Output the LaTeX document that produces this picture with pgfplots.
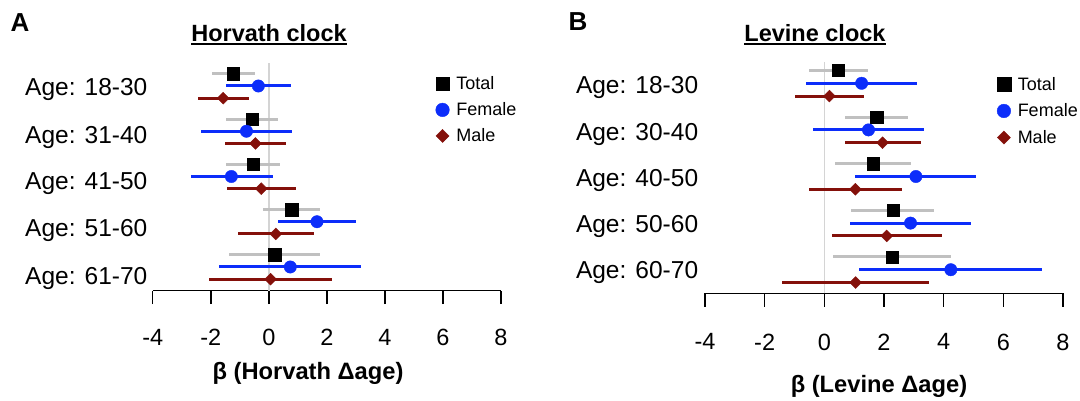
\documentclass[border=0pt]{standalone}
\usepackage{pgfplots}
\pgfplotsset{compat=1.18}
\usepackage{pgfplotstable}
\usepackage{fontspec}
\setmainfont{Liberation Sans}
\definecolor{cigray}{RGB}{192,192,192}
\definecolor{zerogray}{RGB}{212,212,212}
\definecolor{fblue}{RGB}{12,45,250}
\definecolor{mred}{RGB}{132,16,10}

\pgfplotstableread{
y tm tl th fm fl fh mm ml mh
5 -1.22 -1.94 -0.49 -0.36 -1.48 0.77 -1.57 -2.45 -0.69
4 -0.57 -1.46 0.30 -0.77 -2.32 0.79 -0.46 -1.51 0.59
3 -0.54 -1.46 0.39 -1.29 -2.69 0.13 -0.26 -1.44 0.92
2 0.79 -0.21 1.78 1.66 0.30 3.01 0.24 -1.07 1.57
1 0.20 -1.38 1.78 0.74 -1.71 3.16 0.06 -2.05 2.17
}\dataA

\pgfplotstableread{
y tm tl th fm fl fh mm ml mh
5 0.46 -0.52 1.45 1.25 -0.60 3.11 0.17 -0.98 1.32
4 1.75 0.69 2.81 1.48 -0.37 3.35 1.95 0.69 3.24
3 1.63 0.37 2.89 3.07 1.03 5.10 1.04 -0.52 2.61
2 2.30 0.90 3.69 2.89 0.85 4.93 2.09 0.25 3.95
1 2.27 0.30 4.23 4.24 1.17 7.31 1.05 -1.42 3.52
}\dataB

\pgfplotsset{
  forest/.style={
    scale only axis,
    xmin=-4, xmax=8,
    axis x line*=bottom, axis y line*=left,
    y axis line style={draw=none},
    x axis line style={line width=1.5pt, -},
    xtick={-4,-2,...,8},
    tick align=outside, major tick length=13.3pt,
    xtick style={line width=1.5pt, black},
    ytick style={draw=none},
    xticklabel style={font=\fontsize{23.5}{28}\selectfont},
    yticklabel style={font=\fontsize{24.5}{29}\selectfont, anchor=base east},
    /pgf/number format/assume math mode=true,
    clip=false,
    legend cell align=left,
    legend style={draw=none, fill=none, font=\fontsize{18}{21}\selectfont, row sep=7.5pt, column sep=5pt, inner sep=0pt},
    legend image code/.code={\draw[#1, every mark/.append style={scale=1.1}] plot coordinates {(0pt,0pt)};},
    xlabel style={font=\bfseries\fontsize{23.7}{28}\selectfont, anchor=center},
  },
  cibar/.style={forget plot, draw=none, mark=none,
    error bars/.cd, x dir=both, x explicit, error mark=none,
    error bar style={draw=#1, line width=3pt, solid}},
}

\begin{document}
\begin{tikzpicture}
\path[use as bounding box] (0,0) rectangle (1080pt,400pt);

% Panel A
\begin{axis}[forest,
  at={(152.7pt,109.3pt)}, anchor=south west,
  width=348.3pt, height=227.7pt,
  ymin=0.476, ymax=5.508,
  ytick={0.624,1.670,2.702,3.734,4.779},
  yticklabels={Age: 61-70, Age: 51-60, Age: 41-50, Age: 31-40, Age: 18-30},
  yticklabel style={xshift=11.5pt},
  xticklabel style={yshift=-22pt},
  xlabel={β (Horvath Δage)},
  xlabel style={at={(axis description cs:0.446,0)}, yshift=-83pt},
  legend style={at={(axis description cs:0.812,0.95)}, anchor=north west},
]
\addplot[forget plot, line width=1.4pt, zerogray] coordinates {(0,0.476) (0,5.508)};
\addplot[cibar=cigray] table[x=tm, y expr=\thisrow{y}+0.27,
  x error minus expr=\thisrow{tm}-\thisrow{tl}, x error plus expr=\thisrow{th}-\thisrow{tm}] {\dataA};
\addplot[only marks, mark=square*, mark size=6.2pt, black] table[x=tm, y expr=\thisrow{y}+0.27] {\dataA};
\addlegendentry{Total}
\addplot[cibar=fblue] table[x=fm, y=y,
  x error minus expr=\thisrow{fm}-\thisrow{fl}, x error plus expr=\thisrow{fh}-\thisrow{fm}] {\dataA};
\addplot[only marks, mark=*, mark size=6.2pt, fblue] table[x=fm, y=y] {\dataA};
\addlegendentry{Female}
\addplot[cibar=mred] table[x=mm, y expr=\thisrow{y}-0.27,
  x error minus expr=\thisrow{mm}-\thisrow{ml}, x error plus expr=\thisrow{mh}-\thisrow{mm}] {\dataA};
\addplot[only marks, mark=square*, mark size=4.2pt, mark options={rotate=45}, mred] table[x=mm, y expr=\thisrow{y}-0.27] {\dataA};
\addlegendentry{Male}
\end{axis}

% Panel B
\begin{axis}[forest,
  at={(705pt,106.7pt)}, anchor=south west,
  width=358pt, height=231.3pt,
  ymin=0.494, ymax=5.457,
  ytick={0.807,1.794,2.796,3.783,4.785},
  yticklabels={Age: 60-70, Age: 50-60, Age: 40-50, Age: 30-40, Age: 18-30},
  yticklabel style={xshift=10pt},
  xticklabel style={yshift=-23.5pt},
  xlabel={β (Levine Δage)},
  xlabel style={at={(axis description cs:0.486,0)}, yshift=-93.5pt},
  legend style={at={(axis description cs:0.8154,0.944)}, anchor=north west, row sep=8pt},
]
\addplot[forget plot, line width=1.4pt, zerogray] coordinates {(0,0.494) (0,5.457)};
\addplot[cibar=cigray] table[x=tm, y expr=\thisrow{y}+0.275,
  x error minus expr=\thisrow{tm}-\thisrow{tl}, x error plus expr=\thisrow{th}-\thisrow{tm}] {\dataB};
\addplot[only marks, mark=square*, mark size=6.2pt, black] table[x=tm, y expr=\thisrow{y}+0.275] {\dataB};
\addlegendentry{Total}
\addplot[cibar=fblue] table[x=fm, y=y,
  x error minus expr=\thisrow{fm}-\thisrow{fl}, x error plus expr=\thisrow{fh}-\thisrow{fm}] {\dataB};
\addplot[only marks, mark=*, mark size=6.2pt, fblue] table[x=fm, y=y] {\dataB};
\addlegendentry{Female}
\addplot[cibar=mred] table[x=mm, y expr=\thisrow{y}-0.275,
  x error minus expr=\thisrow{mm}-\thisrow{ml}, x error plus expr=\thisrow{mh}-\thisrow{mm}] {\dataB};
\addplot[only marks, mark=square*, mark size=4.2pt, mark options={rotate=45}, mred] table[x=mm, y expr=\thisrow{y}-0.275] {\dataB};
\addlegendentry{Male}
\end{axis}

% Titles and panel letters
\node[anchor=base, inner sep=0pt, font=\bfseries\fontsize{23.5}{28}\selectfont] (tA) at (269pt,358pt) {Horvath clock};
\draw[line width=1.5pt] ([yshift=-2.2pt]tA.base west) -- ([yshift=-2.2pt]tA.base east);
\node[anchor=base, inner sep=0pt, font=\bfseries\fontsize{23.5}{28}\selectfont] (tB) at (815pt,358pt) {Levine clock};
\draw[line width=1.5pt] ([yshift=-2.2pt]tB.base west) -- ([yshift=-2.2pt]tB.base east);
\node[anchor=base west, inner sep=0pt, font=\bfseries\fontsize{26}{30}\selectfont] at (10.5pt,368pt) {A};
\node[anchor=base west, inner sep=0pt, font=\bfseries\fontsize{26}{30}\selectfont] at (568.5pt,369pt) {B};
\end{tikzpicture}
\end{document}
